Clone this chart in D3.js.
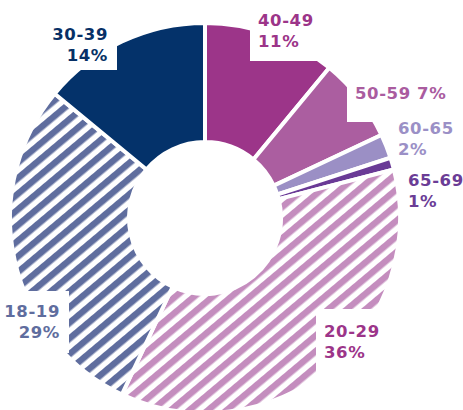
<!DOCTYPE html>
<html>
<head>
<meta charset="utf-8">
<script src="https://cdn.jsdelivr.net/npm/d3@7"></script>
<style>
  html, body { margin: 0; padding: 0; background: #fff; }
  svg { display: block; }
  .lbl { font-family: "DejaVu Sans", sans-serif; font-weight: bold; font-size: 16.5px; letter-spacing: 0.6px; }
</style>
</head>
<body>
<svg id="chart" width="463" height="410"></svg>
<script>
// Age groups, clockwise from 12 o'clock
const categories = ["40-49", "50-59", "60-65", "65-69", "20-29", "18-19", "30-39"];
const shares     = [11, 7, 2, 1, 36, 29, 14];
const fills      = ["#9c3589", "#ab5ea0", "#9b8fc5", "#6a3a96", "#c48dbe", "#5f6d9e", "#04326a"];
const striped    = [false, false, false, false, true, true, false];
const labelColors = ["#9c3589", "#aa5c9f", "#9b90c6", "#6b3d96", "#9c3589", "#5f6d9e", "#073066"];

// Label placement: text anchor/position and the white panel drawn behind it
const labelLayout = {
  "30-39": { anchor: "end",   x: 108, y: 40,  lines: 2, box: [40, 10, 77, 60] },
  "40-49": { anchor: "start", x: 258, y: 26,  lines: 2, box: [250, 0, 95, 61] },
  "50-59": { anchor: "start", x: 355, y: 99,  lines: 1, box: [347, 76, 116, 46] },
  "60-65": { anchor: "start", x: 398, y: 134, lines: 2, box: [392, 124, 71, 38] },
  "65-69": { anchor: "start", x: 408, y: 186, lines: 2, box: [401, 168, 62, 47] },
  "20-29": { anchor: "start", x: 324, y: 337, lines: 2, box: [316, 309, 147, 66] },
  "18-19": { anchor: "end",   x: 60,  y: 317, lines: 2, box: [0, 291, 69, 62] }
};

const svg = d3.select("#chart");
const cx = 205, cy = 218;
const outerR = 195, innerR = 76;

const data = categories.map((c, i) => ({
  category: c, share: shares[i], fill: fills[i], striped: striped[i], labelColor: labelColors[i]
}));

// Diagonal hatch patterns for the striped groups
const defs = svg.append("defs");
data.filter(d => d.striped).forEach((d, i) => {
  const p = defs.append("pattern")
    .attr("id", "hatch-" + d.category)
    .attr("patternUnits", "userSpaceOnUse")
    .attr("width", 12).attr("height", 12)
    .attr("patternTransform", "rotate(-40)");
  p.append("rect").attr("width", 12).attr("height", 12).attr("fill", "#fff");
  p.append("rect").attr("y", 2).attr("width", 12).attr("height", 6.5).attr("fill", d.fill);
});

const pie = d3.pie().value(d => d.share).sort(null)
  .startAngle(0).endAngle(2 * Math.PI);
const arc = d3.arc().innerRadius(innerR).outerRadius(outerR);

const g = svg.append("g").attr("transform", `translate(${cx},${cy})`);
g.selectAll("path.slice")
  .data(pie(data))
  .join("path")
  .attr("class", "slice")
  .attr("d", arc)
  .attr("fill", d => d.data.striped ? `url(#hatch-${d.data.category})` : d.data.fill)
  .attr("stroke", "#fff")
  .attr("stroke-width", 4)
  .attr("stroke-linejoin", "miter");

// Labels with white panels over the ring
const labels = svg.append("g");
data.forEach(d => {
  const L = labelLayout[d.category];
  labels.append("rect")
    .attr("x", L.box[0]).attr("y", L.box[1])
    .attr("width", L.box[2]).attr("height", L.box[3])
    .attr("fill", "#fff");
  const t = labels.append("text")
    .attr("class", "lbl")
    .attr("text-anchor", L.anchor)
    .attr("fill", d.labelColor);
  if (L.lines === 1) {
    t.append("tspan").attr("x", L.x).attr("y", L.y).text(`${d.category} ${d.share}%`);
  } else {
    t.append("tspan").attr("x", L.x).attr("y", L.y).text(d.category);
    t.append("tspan").attr("x", L.x).attr("y", L.y + 21).text(`${d.share}%`);
  }
});
</script>
</body>
</html>
